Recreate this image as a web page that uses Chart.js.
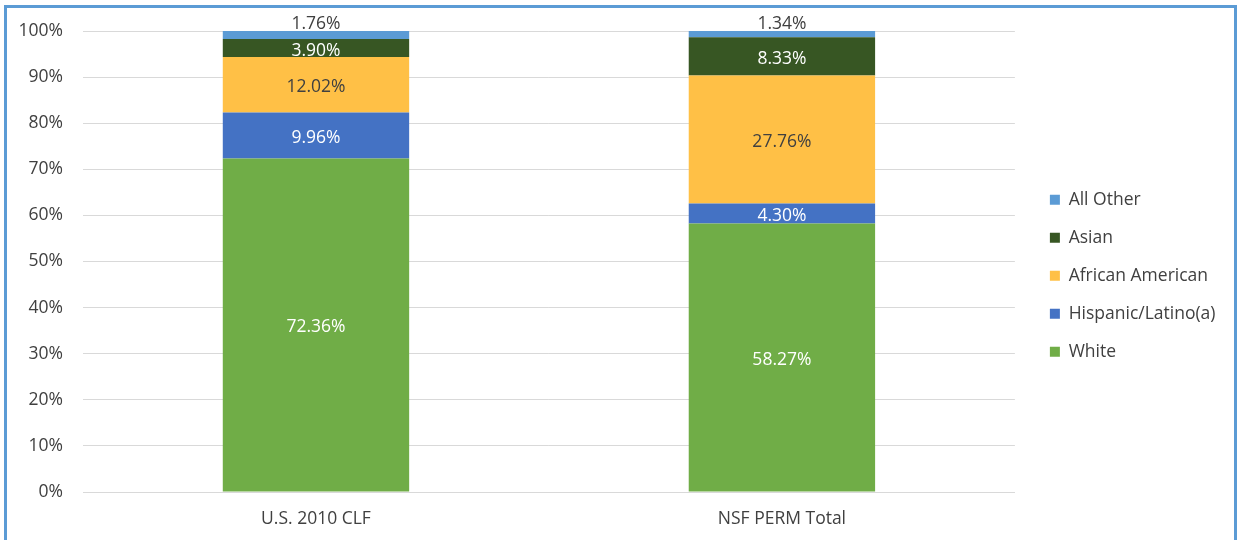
<!DOCTYPE html>
<html>
<head>
<meta charset="utf-8">
<script src="https://cdn.jsdelivr.net/npm/chart.js@4/dist/chart.umd.min.js"></script>
<style>
  html, body { margin: 0; padding: 0; background: #fff; overflow: hidden; }
  #frame {
    position: absolute; left: 4px; top: 5px;
    width: 1227px; height: 540px;
    border: 3px solid #5B9BD5; border-bottom: none;
  }
  #wrap { position: relative; width: 1227px; height: 532px; }
</style>
</head>
<body>
<div id="frame"><div id="wrap"><canvas id="raceChart"></canvas></div></div>
<script>
// Categories and series (percent of workforce)
const groups = ['U.S. 2010 CLF', 'NSF PERM Total'];
const white = [72.36, 58.27];
const hispanic = [9.96, 4.30];
const africanAmerican = [12.02, 27.76];
const asian = [3.90, 8.33];
const allOther = [1.76, 1.34];
const yTicks = [0, 10, 20, 30, 40, 50, 60, 70, 80, 90, 100];

const FONT = '"Open Sans", Lato, sans-serif';
const TEXT = '#404040';
const SIZE = 17.5;

// Draws the value labels on each segment (All Other sits above the bar)
const segmentLabels = {
    id: 'segmentLabels',
    afterDatasetsDraw(chart) {
        const ctx = chart.ctx;
        ctx.save();
        ctx.font = SIZE + 'px ' + FONT;
        ctx.textAlign = 'center';
        ctx.textBaseline = 'middle';
        chart.data.datasets.forEach((ds, i) => {
            const meta = chart.getDatasetMeta(i);
            meta.data.forEach((bar, j) => {
                const txt = ds.data[j].toFixed(2) + '%';
                let y = (bar.y + bar.base) / 2;
                if (ds.labelAbove) y = bar.y - 9;
                ctx.fillStyle = ds.labelColor;
                ctx.fillText(txt, bar.x, y + 2.5);
            });
        });
        ctx.restore();
    }
};

new Chart(document.getElementById('raceChart'), {
    type: 'bar',
    data: {
        labels: groups,
        datasets: [
            { label: 'White', data: white, backgroundColor: '#70AD47', labelColor: '#ffffff' },
            { label: 'Hispanic/Latino(a)', data: hispanic, backgroundColor: '#4472C4', labelColor: '#ffffff' },
            { label: 'African American', data: africanAmerican, backgroundColor: '#FFC046', labelColor: TEXT },
            { label: 'Asian', data: asian, backgroundColor: '#375623', labelColor: '#ffffff' },
            { label: 'All Other', data: allOther, backgroundColor: '#5B9BD5', labelColor: TEXT, labelAbove: true }
        ]
    },
    options: {
        responsive: true,
        maintainAspectRatio: false,
        animation: false,
        layout: { padding: { top: 23, left: 0, right: 8.5, bottom: 0 } },
        datasets: {
            bar: { barPercentage: 0.4, categoryPercentage: 1.0, borderWidth: 0 }
        },
        scales: {
            x: {
                stacked: true,
                grid: { display: false },
                border: { color: '#D9D9D9' },
                ticks: { color: TEXT, font: { family: FONT, size: SIZE }, padding: 9 },
                afterFit(scale) { scale.height = 48; }
            },
            y: {
                stacked: true,
                min: 0,
                max: 100,
                afterBuildTicks(scale) { scale.ticks = yTicks.map(v => ({ value: v })); },
                grid: { color: '#D9D9D9', drawTicks: false },
                border: { display: false },
                ticks: {
                    color: TEXT,
                    font: { family: FONT, size: SIZE },
                    padding: 20,
                    callback: v => v + '%'
                },
                afterFit(scale) {
                    scale.width = 76;
                    scale.paddingTop = 0;
                    scale.paddingBottom = 0;
                }
            },
            // empty spacer between the plot and the legend
            spacer: {
                type: 'linear',
                position: 'right',
                display: true,
                grid: { display: false },
                border: { display: false },
                ticks: { display: false },
                afterFit(scale) {
                    scale.width = 14.5;
                    scale.paddingTop = 0;
                    scale.paddingBottom = 0;
                }
            }
        },
        plugins: {
            legend: {
                position: 'right',
                reverse: true,
                align: 'start',
                title: { display: true, text: '', padding: { top: 125, bottom: 0 } },
                labels: {
                    color: TEXT,
                    font: { family: FONT, size: SIZE },
                    boxWidth: 10,
                    boxHeight: 10,
                    padding: 20.5
                }
            },
            tooltip: { enabled: false },
            title: { display: false }
        }
    },
    plugins: [segmentLabels]
});
</script>
</body>
</html>
